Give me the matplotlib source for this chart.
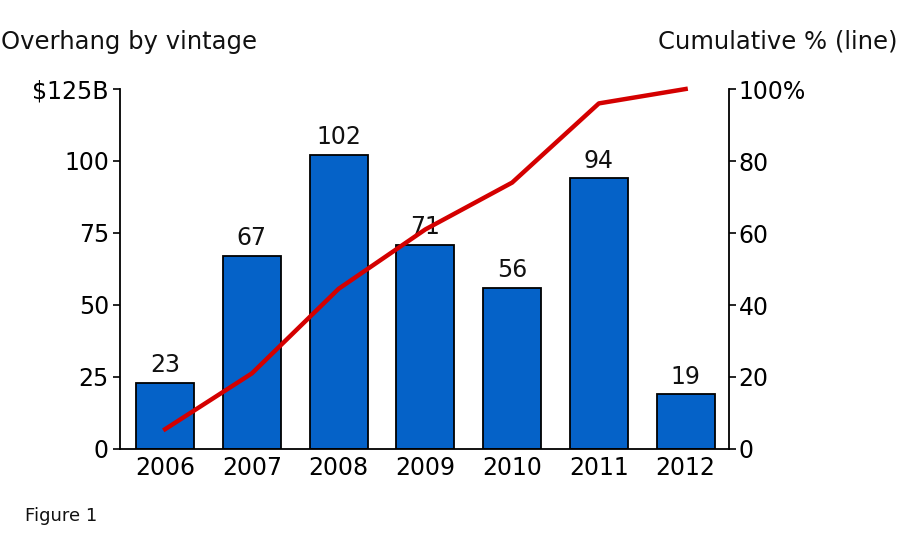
import numpy as np
import matplotlib.pyplot as plt

years = ['2006', '2007', '2008', '2009', '2010', '2011', '2012']
overhang = [23, 67, 102, 71, 56, 94, 19]
cum_pct = [5.5, 21, 44.5, 61, 74, 96, 100]

left_ticks = [0, 25, 50, 75, 100, 125]
left_labels = ['0', '25', '50', '75', '100', '$125B']
right_ticks = [0, 20, 40, 60, 80, 100]
right_labels = ['0', '20', '40', '60', '80', '100%']

fig = plt.figure(figsize=(9, 5.6), dpi=100)
ax = fig.add_axes([120 / 900, 111 / 560, 609 / 900, 360 / 560])
x = np.arange(len(years))

ax.bar(x, overhang, width=0.67, color='#0562C8', edgecolor='black', linewidth=1.3, zorder=2)
for xi, v in zip(x, overhang):
    ax.text(xi, v + 2.0, str(v), ha='center', va='bottom', fontsize=17, color='#111111', zorder=3)

ax.set_xlim(-0.52, 6.5)
ax.set_ylim(0, 125)
ax.set_xticks(x)
ax.set_xticklabels(years, fontsize=17)
ax.tick_params(axis='x', length=0, pad=5)
ax.set_yticks(left_ticks)
ax.set_yticklabels(left_labels, fontsize=17)
ax.tick_params(axis='y', length=5, width=1.2, direction='out', pad=3)
ax.spines['top'].set_visible(False)
ax.spines['right'].set_visible(False)
for s in ['left', 'bottom']:
    ax.spines[s].set_linewidth(1.3)

ax2 = ax.twinx()
ax2.plot(x, cum_pct, color='#D40000', linewidth=3.2, zorder=4, clip_on=False)
ax2.set_ylim(0, 100)
ax2.set_yticks(right_ticks)
ax2.set_yticklabels(right_labels, fontsize=17)
ax2.tick_params(axis='y', length=5, width=1.2, direction='out', pad=2)
for s in ['top', 'left', 'bottom']:
    ax2.spines[s].set_visible(False)
ax2.spines['right'].set_linewidth(1.3)
ax2.set_zorder(ax.get_zorder() + 1)
ax2.patch.set_visible(False)

fig.text(1 / 900, 1 - 42 / 560, 'Overhang by vintage', fontsize=17.5, va='center', ha='left', color='#111111')
fig.text(897 / 900, 1 - 42 / 560, 'Cumulative % (line)', fontsize=17.5, va='center', ha='right', color='#111111')
fig.text(25 / 900, 1 - 516 / 560, 'Figure 1', fontsize=13, va='center', ha='left', color='#111111')

fig.savefig('out.png', dpi=100)
